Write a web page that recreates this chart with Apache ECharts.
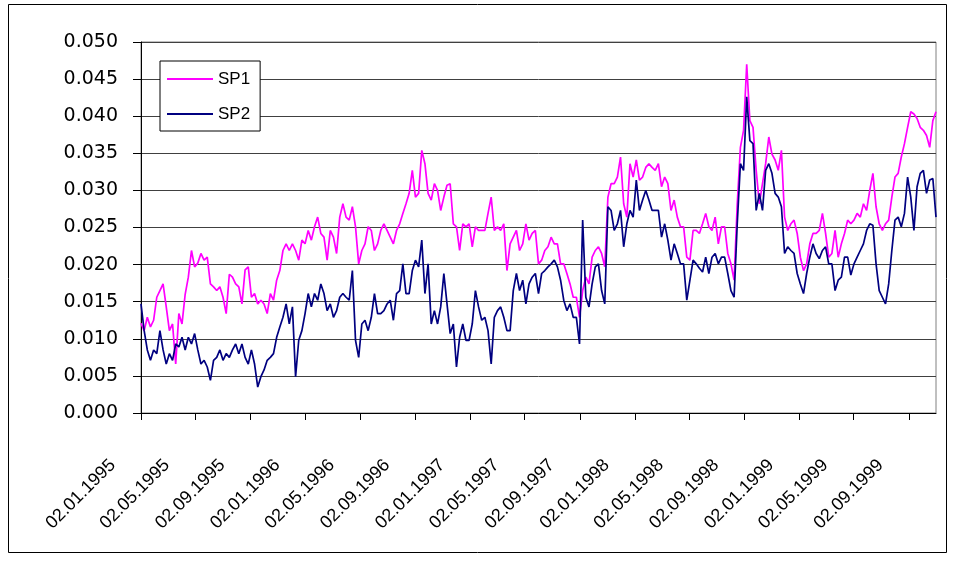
<!DOCTYPE html>
<html><head><meta charset="utf-8">
<script src="https://cdn.jsdelivr.net/npm/echarts@6/dist/echarts.min.js"></script>
<style>html,body{margin:0;padding:0;background:#fff}#c{width:953px;height:563px}</style>
</head><body><div id="c"></div>
<script>
// weekly observations starting 02.01.1995
const startYear = 1995, startMonth = 0, startDay = 2, stepDays = 7;
const tickLabels = ['02.01.1995','02.05.1995','02.09.1995','02.01.1996','02.05.1996','02.09.1996','02.01.1997','02.05.1997','02.09.1997','02.01.1998','02.05.1998','02.09.1998','02.01.1999','02.05.1999','02.09.1999'];
const seriesNames = ['SP1','SP2'];
const sp1 = [
0.0121,0.0111,0.0129,0.0116,0.0125,0.0156,0.0165,0.0174,0.0143,0.0111,
0.0120,0.0066,0.0134,0.0120,0.0160,0.0183,0.0219,0.0197,0.0202,0.0215,
0.0206,0.0210,0.0174,0.0170,0.0165,0.0170,0.0156,0.0134,0.0187,0.0183,
0.0174,0.0170,0.0147,0.0193,0.0197,
0.0156,0.0161,0.0147,0.0152,0.0147,0.0134,0.0161,0.0152,0.0179,0.0192,
0.0219,0.0228,0.0219,0.0228,0.0219,0.0206,0.0233,0.0228,0.0246,0.0233,
0.0251,0.0264,0.0242,0.0237,0.0206,0.0246,0.0237,0.0215,0.0264,0.0282,
0.0264,0.0260,0.0278,0.0251,0.0201,0.0219,
0.0228,0.0251,0.0246,0.0219,0.0228,0.0246,0.0255,0.0246,0.0237,0.0228,
0.0246,0.0255,0.0269,0.0282,0.0296,0.0327,0.0291,0.0296,0.0354,0.0336,
0.0296,0.0287,0.0309,0.0300,0.0273,0.0291,0.0307,0.0309,0.0255,0.0251,
0.0219,0.0255,0.0251,0.0255,0.0224,0.0251,0.0246,
0.0246,0.0246,0.0269,0.0291,0.0246,0.0251,0.0246,0.0255,0.0192,0.0228,
0.0237,0.0246,0.0219,0.0228,0.0255,0.0233,0.0242,0.0246,0.0201,0.0206,
0.0219,0.0224,0.0237,0.0228,0.0228,0.0201,0.0201,0.0188,0.0174,0.0156,
0.0156,0.0129,0.0165,0.0183,0.0174,0.0210,
0.0219,0.0224,0.0215,0.0197,0.0291,0.0309,0.0309,0.0318,0.0345,0.0282,
0.0264,0.0336,0.0318,0.0341,0.0314,0.0318,0.0331,0.0336,0.0331,0.0327,
0.0336,0.0305,0.0318,0.0309,0.0273,0.0287,0.0264,0.0251,0.0251,0.0210,
0.0206,0.0246,0.0246,0.0242,0.0255,0.0269,0.0251,
0.0246,0.0264,0.0228,0.0251,0.0251,0.0215,0.0201,0.0179,0.0282,0.0358,
0.0381,0.0470,0.0394,0.0385,0.0327,0.0282,0.0309,0.0336,0.0372,0.0349,
0.0341,0.0327,0.0354,0.0264,0.0246,0.0255,0.0260,0.0242,0.0210,0.0192,
0.0201,0.0228,0.0242,0.0242,0.0246,0.0269,
0.0242,0.0210,0.0215,0.0246,0.0210,0.0228,0.0242,0.0260,0.0255,0.0260,
0.0269,0.0264,0.0282,0.0273,0.0300,0.0323,0.0278,0.0255,0.0246,0.0255,
0.0260,0.0291,0.0318,0.0323,0.0345,0.0363,0.0385,0.0406,0.0403,0.0397,
0.0385,0.0381,0.0374,0.0358,0.0394,0.0406
];
const sp2 = [
0.0147,0.0111,0.0085,0.0071,0.0085,0.0080,0.0111,0.0085,0.0066,0.0080,
0.0071,0.0093,0.0089,0.0102,0.0085,0.0102,0.0093,0.0107,0.0085,0.0066,
0.0071,0.0062,0.0044,0.0071,0.0075,0.0085,0.0071,0.0080,0.0075,0.0085,
0.0093,0.0080,0.0093,0.0075,0.0066,
0.0085,0.0066,0.0035,0.0049,0.0058,0.0071,0.0075,0.0080,0.0102,0.0116,
0.0129,0.0147,0.0120,0.0143,0.0049,0.0098,0.0111,0.0134,0.0161,0.0143,
0.0161,0.0152,0.0174,0.0161,0.0138,0.0147,0.0129,0.0138,0.0156,0.0161,
0.0156,0.0152,0.0192,0.0098,0.0075,0.0120,
0.0125,0.0111,0.0129,0.0161,0.0134,0.0134,0.0138,0.0147,0.0152,0.0125,
0.0161,0.0165,0.0201,0.0161,0.0161,0.0192,0.0206,0.0197,0.0233,0.0161,
0.0201,0.0120,0.0138,0.0120,0.0143,0.0188,0.0147,0.0107,0.0120,0.0062,
0.0102,0.0120,0.0098,0.0098,0.0120,0.0165,0.0143,
0.0125,0.0129,0.0111,0.0066,0.0129,0.0138,0.0143,0.0129,0.0111,0.0111,
0.0165,0.0188,0.0165,0.0179,0.0147,0.0174,0.0183,0.0188,0.0161,0.0188,
0.0192,0.0197,0.0201,0.0206,0.0197,0.0179,0.0152,0.0138,0.0147,0.0129,
0.0129,0.0093,0.0260,0.0156,0.0143,0.0174,
0.0197,0.0201,0.0165,0.0147,0.0278,0.0273,0.0246,0.0255,0.0273,0.0224,
0.0255,0.0273,0.0264,0.0314,0.0273,0.0287,0.0300,0.0287,0.0273,0.0273,
0.0273,0.0237,0.0255,0.0233,0.0206,0.0228,0.0215,0.0201,0.0201,0.0152,
0.0179,0.0206,0.0201,0.0195,0.0190,0.0210,0.0188,
0.0210,0.0215,0.0201,0.0210,0.0210,0.0188,0.0165,0.0156,0.0255,0.0336,
0.0327,0.0426,0.0367,0.0363,0.0273,0.0296,0.0273,0.0327,0.0336,0.0323,
0.0296,0.0291,0.0278,0.0215,0.0224,0.0219,0.0215,0.0188,0.0174,0.0161,
0.0188,0.0210,0.0228,0.0215,0.0208,0.0219,
0.0224,0.0201,0.0201,0.0165,0.0179,0.0183,0.0210,0.0210,0.0186,0.0201,
0.0210,0.0219,0.0228,0.0246,0.0255,0.0253,0.0201,0.0165,0.0156,0.0147,
0.0174,0.0219,0.0260,0.0264,0.0251,0.0269,0.0318,0.0291,0.0246,0.0305,
0.0323,0.0327,0.0296,0.0314,0.0316,0.0264
];

const DAY = 86400000;
const t0 = Date.UTC(startYear, startMonth, startDay);
// x = days since the first observation
const days = sp1.map((_, i) => Math.round((Date.UTC(startYear, startMonth, startDay + stepDays * i) - t0) / DAY));
function parseDMY(s) { const p = s.split('.').map(Number); return Math.round((Date.UTC(p[2], p[1] - 1, p[0]) - t0) / DAY); }
const tickDays = tickLabels.map(parseDMY);
function labelFor(v) {
  let best = 0, bd = Infinity;
  tickDays.forEach((t, i) => { const d = Math.abs(t - v); if (d < bd) { bd = d; best = i; } });
  return tickLabels[best];
}

const chart = echarts.init(document.getElementById('c'), null, { renderer: 'canvas' });
chart.setOption({
  animation: false,
  backgroundColor: '#fff',
  grid: { left: 141, top: 42, right: 17, bottom: 150, show: true, borderColor: '#808080', borderWidth: 1, backgroundColor: 'transparent' },
  xAxis: {
    type: 'value', min: 0, max: days[days.length - 1],
    axisLine: { show: true, onZero: false, lineStyle: { color: '#000', width: 1 } },
    axisTick: { show: true, customValues: tickDays, length: 7, lineStyle: { color: '#000' } },
    axisLabel: { customValues: tickDays, rotate: 45, formatter: v => labelFor(v), fontFamily: 'Liberation Sans, Arial, sans-serif', fontSize: 18, color: '#000', margin: 21, padding: [0, 40, 0, 0] },
    splitLine: { show: false }
  },
  yAxis: {
    type: 'value', min: 0, max: 0.05, interval: 0.005,
    axisLine: { show: true, lineStyle: { color: '#000', width: 1 } },
    axisTick: { show: true, length: 8, lineStyle: { color: '#000' } },
    axisLabel: { formatter: v => v.toFixed(3), fontFamily: 'DejaVu Sans', fontSize: 19, color: '#000', margin: 23 },
    splitLine: { show: true, lineStyle: { color: '#404040', width: 1 } }
  },
  legend: {
    orient: 'vertical', left: 160, top: 61, icon: 'rect', itemWidth: 46, itemHeight: 2, itemGap: 15,
    padding: [8, 10, 7, 7], borderColor: '#000', borderWidth: 1, backgroundColor: '#fff',
    textStyle: { fontFamily: 'Liberation Sans, Arial, sans-serif', fontSize: 17, color: '#000', lineHeight: 20 },
    data: seriesNames
  },
  series: [
    { type: 'line', name: seriesNames[0], data: days.map((d, i) => [d, sp1[i]]), showSymbol: false, symbol: 'none',
      lineStyle: { color: '#FF00FF', width: 1.7 }, itemStyle: { color: '#FF00FF' } },
    { type: 'line', name: seriesNames[1], data: days.map((d, i) => [d, sp2[i]]), showSymbol: false, symbol: 'none',
      lineStyle: { color: '#000080', width: 1.7 }, itemStyle: { color: '#000080' } }
  ],
  graphic: [{ type: 'rect', silent: true, z: 100, shape: { x: 8.5, y: 4.5, width: 938, height: 548 }, style: { fill: 'none', stroke: '#000', lineWidth: 1 } }]
});
</script></body></html>
